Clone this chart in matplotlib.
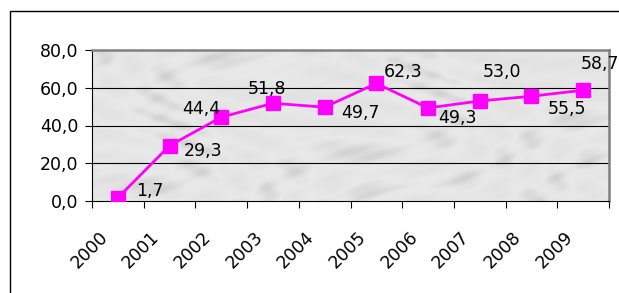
import numpy as np
import matplotlib
matplotlib.use('Agg')
import matplotlib.pyplot as plt
from matplotlib.patches import Rectangle

plt.rcParams['font.family'] = ['DejaVu Sans']

# data
years = ['2000', '2001', '2002', '2003', '2004', '2005', '2006', '2007', '2008', '2009']
values = [1.7, 29.3, 44.4, 51.8, 49.7, 62.3, 49.3, 53.0, 55.5, 58.7]
value_labels = ['1,7', '29,3', '44,4', '51,8', '49,7', '62,3', '49,3', '53,0', '55,5', '58,7']
y_ticks = [0, 20, 40, 60, 80]
y_tick_labels = ['0,0', '20,0', '40,0', '60,0', '80,0']

# label offsets in points (dx, dy) and alignment
label_offsets = [(13, 5), (10, -4), (-1, 6), (-18, 10), (12, -4), (5, 8), (7, -7), (2, 21), (12, -9), (-2, 19)]
label_ha = ['left', 'left', 'right', 'left', 'left', 'left', 'left', 'left', 'left', 'left']

FS = 12.5

fig = plt.figure(figsize=(6.19, 2.93), dpi=100)
fig.patch.set_facecolor('white')

# outer chart frame (clipped on right/bottom like the original)
fig.patches.append(Rectangle((10 / 619, -0.2), 1.2, 1.2 - 11 / 293,
                             transform=fig.transFigure, fill=False,
                             edgecolor='black', linewidth=1.0))

ax = fig.add_axes([92 / 619, 1 - 201 / 293, (609 - 92) / 619, (201 - 50) / 293])

# marble-like background (deterministic pattern)
xx, yy = np.meshgrid(np.linspace(0, 1, 400), np.linspace(0, 1, 120))
warp = 2.5 * np.sin(5 * yy + 3 * xx) + 1.5 * np.sin(11 * xx - 4 * yy)
tex = (np.sin(18 * xx + 10 * yy + warp) * 0.5
       + np.sin(43 * xx - 25 * yy + 1.7 * warp) * 0.3
       + np.sin(90 * xx + 60 * yy + warp) * 0.12)
tex = 0.91 - 0.14 * np.clip(tex, 0, None) ** 1.5 + 0.03 * tex
ax.imshow(tex, cmap='gray', vmin=0, vmax=1, extent=[-0.5, 9.5, 0, 80],
          aspect='auto', zorder=0, interpolation='bilinear')

x = np.arange(len(years))
ax.set_xlim(-0.5, 9.5)
ax.set_ylim(0, 80)

for yv in y_ticks[1:-1]:
    ax.axhline(yv, color='black', linewidth=0.8, zorder=1)

ax.plot(x, values, color='#FF00FF', linewidth=2.0, marker='s',
        markersize=10.5, zorder=3)

for xi, v, lab, (dx, dy), ha in zip(x, values, value_labels, label_offsets, label_ha):
    ax.annotate(lab, (xi, v), xytext=(dx, dy), textcoords='offset points',
                ha=ha, va='center', fontsize=FS, color='black', zorder=4,
                annotation_clip=False)

# rotated category labels
for xi, yr in zip(x, years):
    ax.annotate(yr, (xi, 0), xytext=(-13, -33), textcoords='offset pixels',
                rotation=45, rotation_mode='anchor', ha='right', va='center',
                fontsize=FS, annotation_clip=False)

ax.set_yticks(y_ticks)
ax.set_yticklabels(y_tick_labels, fontsize=FS)
ax.set_xticks(np.arange(-0.5, 10, 1))
ax.set_xticklabels([])
ax.tick_params(axis='x', length=5, width=0.8, direction='out')
ax.tick_params(axis='y', length=5, width=0.8, direction='out', pad=5)

ax.spines['left'].set_color('black')
ax.spines['bottom'].set_color('black')
ax.spines['left'].set_linewidth(0.8)
ax.spines['bottom'].set_linewidth(0.8)
ax.spines['top'].set_color('#808080')
ax.spines['right'].set_color('#808080')
ax.spines['top'].set_linewidth(1.8)
ax.spines['right'].set_linewidth(1.8)

fig.savefig('out.png', dpi=100)
